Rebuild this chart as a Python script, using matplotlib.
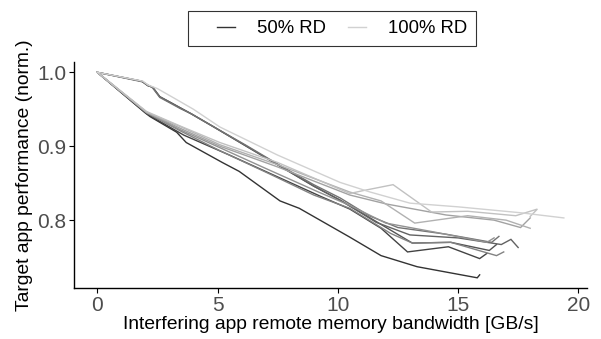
import numpy as np
import matplotlib
matplotlib.use("Agg")
import matplotlib.pyplot as plt
from matplotlib.lines import Line2D
from matplotlib.legend_handler import HandlerBase

plt.rcParams['font.family'] = ['Liberation Sans', 'DejaVu Sans']

# remote-read ratio of the target app, one line each
rd_levels = [50, 55, 60, 65, 70, 75, 80, 85, 90, 95, 100]

# interfering app bandwidth [GB/s] and normalised target performance, per RD level
bw = {
    50: [0, 2.0, 2.2, 3.3, 3.7, 5.2, 5.9, 7.6, 8.4, 9.8, 10.5, 11.8, 13.3, 15.8, 15.9],
    55: [0, 2.05, 3.6, 5.5, 7.4, 9.3, 10.5, 11.8, 12.9, 14.6, 15.9, 16.2],
    60: [0, 1.85, 2.1, 2.3, 2.6, 3.0, 3.45, 3.9, 4.8, 6.2, 7.6, 9.0, 10.1, 11.5, 13.1, 14.7, 16.3, 16.6],
    65: [0, 1.85, 2.1, 2.3, 2.6, 3.0, 3.45, 3.9, 4.8, 6.2, 7.6, 9.0, 10.1, 11.6, 13.0, 15.0, 16.8, 17.2, 17.5],
    70: [0, 1.9, 2.1, 2.3, 2.6, 3.0, 3.45, 3.9, 4.8, 6.2, 7.6, 9.0, 10.1, 11.3, 12.5, 14.5, 16.4, 16.7],
    75: [0, 2.05, 3.5, 5.1, 7.2, 9.0, 10.5, 12.2, 13.1, 14.7, 16.6, 16.9],
    80: [0, 2.05, 3.4, 5.1, 7.0, 9.2, 10.5, 12.0, 14.0, 16.2, 16.5],
    85: [0, 2.05, 3.4, 5.1, 7.5, 10.5, 12.0, 14.5, 16.5, 17.6, 18.0],
    90: [0, 2.05, 3.5, 5.1, 7.5, 10.5, 11.8, 13.2, 15.4, 17.0, 18.0],
    95: [0, 2.05, 3.4, 5.1, 7.5, 10.5, 11.06, 12.3, 13.9, 15.4, 17.4, 18.3, 18.0],
    100: [0, 1.9, 2.1, 2.5, 3.2, 4.0, 5.1, 7.5, 10.1, 11.35, 13.0, 15.0, 17.6, 19.4],
}
perf = {
    50: [1.0, 0.945, 0.940, 0.919, 0.905, 0.878, 0.866, 0.826, 0.816, 0.790, 0.777, 0.752, 0.737, 0.722, 0.726],
    55: [1.0, 0.944, 0.915, 0.888, 0.860, 0.832, 0.815, 0.789, 0.757, 0.764, 0.748, 0.755],
    60: [1.0, 0.988, 0.982, 0.980, 0.967, 0.960, 0.952, 0.944, 0.927, 0.900, 0.873, 0.846, 0.827, 0.800, 0.769, 0.770, 0.759, 0.767],
    65: [1.0, 0.988, 0.982, 0.980, 0.967, 0.960, 0.952, 0.944, 0.927, 0.900, 0.873, 0.846, 0.827, 0.797, 0.780, 0.776, 0.767, 0.774, 0.763],
    70: [1.0, 0.987, 0.983, 0.979, 0.966, 0.959, 0.951, 0.944, 0.927, 0.901, 0.874, 0.848, 0.830, 0.806, 0.790, 0.781, 0.770, 0.778],
    75: [1.0, 0.945, 0.920, 0.894, 0.862, 0.834, 0.816, 0.782, 0.769, 0.770, 0.752, 0.757],
    80: [1.0, 0.946, 0.923, 0.898, 0.870, 0.838, 0.820, 0.796, 0.784, 0.770, 0.776],
    85: [1.0, 0.946, 0.925, 0.900, 0.872, 0.834, 0.822, 0.807, 0.800, 0.790, 0.803],
    90: [1.0, 0.946, 0.926, 0.902, 0.875, 0.838, 0.826, 0.796, 0.806, 0.800, 0.789],
    95: [1.0, 0.947, 0.928, 0.905, 0.878, 0.836, 0.840, 0.848, 0.811, 0.812, 0.806, 0.815, 0.805],
    100: [1.0, 0.988, 0.983, 0.978, 0.965, 0.950, 0.926, 0.888, 0.851, 0.838, 0.823, 0.818, 0.810, 0.803],
}

fig = plt.figure(figsize=(6.01, 3.39), dpi=100)
ax = fig.add_axes([0.123, 0.150, 0.854, 0.667])

def grey_for(rd):
    # continuous grey ramp: dark at 50% RD, light at 100% RD
    g = 0.20 + (rd - 50) / 50 * 0.62
    return (g, g, g)

for rd in rd_levels:
    ax.plot(bw[rd], perf[rd], color=grey_for(rd), lw=1.0, solid_joinstyle='miter')

ax.set_xlim(-0.97, 20.37)
ax.set_ylim(0.708, 1.0139)
ax.set_xticks([0, 5, 10, 15, 20])
ax.set_yticks([0.8, 0.9, 1.0])
ax.set_yticklabels(['0.8', '0.9', '1.0'])

for side in ['top', 'right']:
    ax.spines[side].set_visible(False)
for side in ['left', 'bottom']:
    ax.spines[side].set_linewidth(1.0)
ax.tick_params(axis='both', labelsize=15, labelcolor='#4d4d4d', length=3.6, width=0.8, pad=2)

ax.set_xlabel('Interfering app remote memory bandwidth [GB/s]', fontsize=13.9, labelpad=1)
ax.set_ylabel('Target app performance (norm.)', fontsize=13.9, labelpad=3)


class KeyHandler(HandlerBase):
    # short key line sitting at the right end of a wider key box
    def create_artists(self, legend, orig_handle, xdescent, ydescent,
                       width, height, fontsize, trans):
        y = height / 2 - ydescent
        x1 = width - xdescent
        x0 = x1 - 13
        line = Line2D([x0, x1], [y, y], color=orig_handle.get_color(), lw=1.0)
        line.set_transform(trans)
        return [line]


handles = [Line2D([0], [0], color=grey_for(50), lw=1.0),
           Line2D([0], [0], color=grey_for(100), lw=1.0)]
leg = fig.legend(handles, ['50% RD', '100% RD'], loc='center', bbox_to_anchor=(0.5524, 0.9159),
                 ncol=2, fontsize=13.3, frameon=True, fancybox=False, handlelength=2.05,
                 handletextpad=1.19, columnspacing=0.1, borderpad=0.5,
                 handler_map={Line2D: KeyHandler()})
leg.get_frame().set_edgecolor('black')
leg.get_frame().set_linewidth(0.8)

fig.savefig('out.png', dpi=100)
